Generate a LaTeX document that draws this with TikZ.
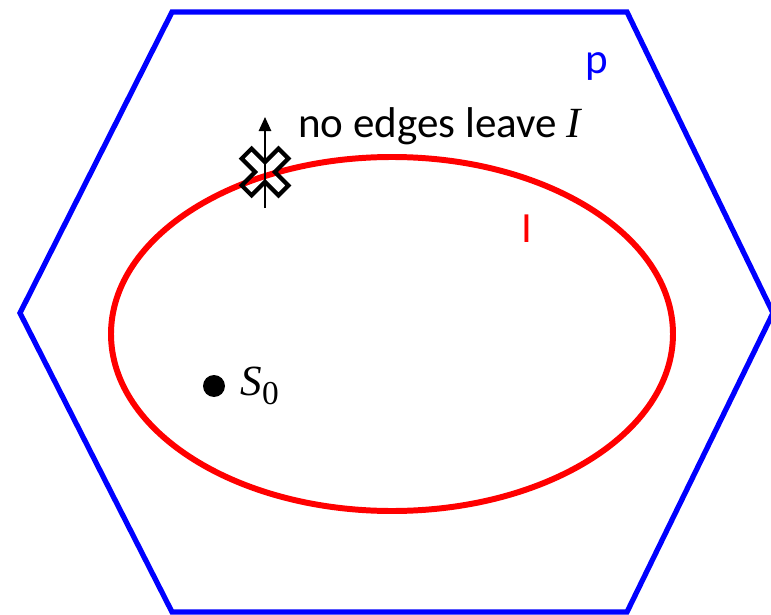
\documentclass[tikz,border=0pt]{standalone}
\usepackage{fontspec}
\setmainfont{Carlito}
\newfontfamily\mathserif{Liberation Serif}
\usetikzlibrary{arrows.meta, positioning}
\definecolor{hexblue}{RGB}{0, 0, 255}
\definecolor{setred}{RGB}{255, 0, 0}

\tikzset{
  lbl/.style={font=\fontsize{24.5}{28}\selectfont, inner sep=0pt},
}
\newcommand{\mvar}[1]{{\mathserif\itshape #1}}

\begin{document}
\begin{tikzpicture}[x=0.02cm, y=-0.02cm]
            \useasboundingbox (0,0) rectangle (771,615);
            \clip (0,0) rectangle (771,615);

            % P hexagon
            \draw[draw=hexblue, line width=3pt, line join=miter]
                (172,12) -- (627,12) -- (773,313) -- (627,612) -- (172,612) -- (20,313) -- cycle;
            \node[lbl, text=hexblue, anchor=base] (plabel) at (597,74) {p};

            % I ellipse
            \draw[draw=setred, line width=3.4pt] (392,334) ellipse (281 and 177);
            \node[lbl, text=setred, anchor=base] (ilabel) at (527,242) {I};

            % start state
            \node[circle, fill=black, minimum size=0.44cm, inner sep=0pt] (s0) at (214,386) {};
            \node[lbl, anchor=west, right=0.3cm of s0] (s0label) {\mvar{S}\raisebox{-0.22em}{\fontsize{19}{21}\selectfont\mathserif 0}};

            % no edge leaves I
            \coordinate (edgefrom) at (265,208);
            \coordinate (edgeto) at (265,117);
            \draw[line width=1.1pt, -{Triangle[length=8pt, width=7pt]}] (edgefrom) -- (edgeto);
            \draw[line width=2.4pt, line join=miter, rotate around={45:(265,172)}]
                (265-26,172-7) -- (265-7,172-7) -- (265-7,172-26) -- (265+7,172-26) -- (265+7,172-7)
                -- (265+26,172-7) -- (265+26,172+7) -- (265+7,172+7) -- (265+7,172+26)
                -- (265-7,172+26) -- (265-7,172+7) -- (265-26,172+7) -- cycle;
            \node[lbl, anchor=base west] (noedges) at (298,137) {no edges leave \mvar{I}};
        \end{tikzpicture}
\end{document}
